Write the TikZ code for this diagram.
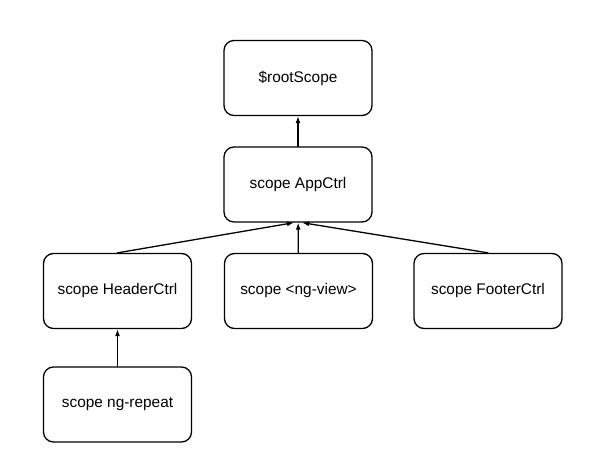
\documentclass[tikz,border=0pt]{standalone}
\usepackage{fontspec}
\setmainfont{Liberation Sans}
\usetikzlibrary{arrows.meta}
\tikzset{scopebox/.style={draw,line width=1.3pt,rounded corners=10pt,minimum width=148pt,minimum height=75pt,inner sep=0pt,font=\fontsize{15.4}{18}\selectfont},
  parent/.style={-{Latex[length=7pt,width=5pt]},line width=1.3pt}}

\begin{document}
\begin{tikzpicture}[line cap=round,line join=round,x=1pt,y=-1pt]
	\useasboundingbox (0,0) rectangle (600,476);
	% top
	\node[scopebox] (root) at (298,78) {\$rootScope};
	\node[scopebox] (app) at (298,184.5) {scope AppCtrl};
	% children of AppCtrl
	\node[scopebox] (header) at (117.5,291) {scope HeaderCtrl};
	\node[scopebox] (view) at (298.5,291) {scope <ng-view>};
	\node[scopebox] (footer) at (488,291) {scope FooterCtrl};
	% ng-repeat
	\node[scopebox] (repeat) at (117.5,404.5) {scope ng-repeat};

	\draw [parent] (app) -- (root);
	\draw [parent] (header.north) -- ([xshift=-4pt]app.south);
	\draw [parent] (view) -- (app);
	\draw [parent] (footer.north) -- ([xshift=4pt]app.south);
	\draw [parent] (repeat) -- (header);
\end{tikzpicture}
\end{document}
